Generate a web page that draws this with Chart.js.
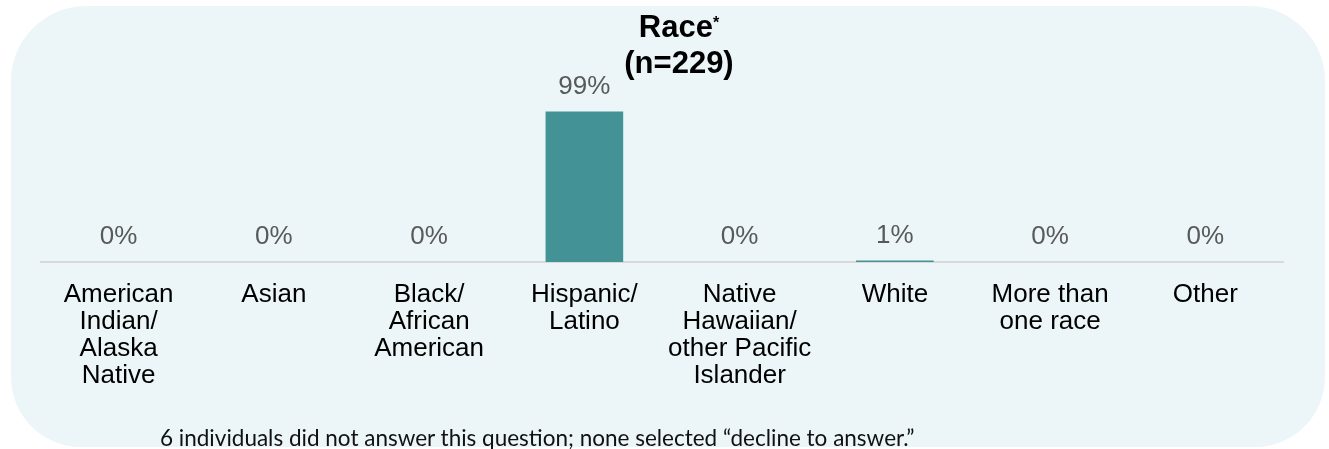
<!DOCTYPE html>
<html>
<head>
<meta charset="utf-8">
<script src="https://cdn.jsdelivr.net/npm/chart.js@4.4.1/dist/chart.umd.min.js"></script>
<style>
    body { margin: 0; background: #ffffff; width: 1329px; height: 449px; overflow: hidden; position: relative; font-family: "Liberation Sans", Arial, sans-serif; }
    #panel { position: absolute; left: 11px; top: 6px; width: 1314px; height: 441px; border-radius: 75px 75px 70px 70px; background: #ecf6f8; }
    #chartBox { position: absolute; left: 0; top: 0; width: 1329px; height: 449px; }
    #title { position: absolute; left: 579px; width: 200px; top: 9px; text-align: center; font-weight: bold; font-size: 31px; line-height: 36px; color: #000; }
    #title sup { font-size: 16px; position: relative; top: -4px; vertical-align: top; }
    #note { position: absolute; left: 160px; top: 424px; font-family: Lato, "Open Sans", sans-serif; font-size: 22.5px; color: #111; white-space: nowrap; }
</style>
</head>
<body>
<div id="panel"></div>
<div id="chartBox"><canvas id="raceChart"></canvas></div>
<div id="title">Race<sup>*</sup><br>(n=229)</div>
<div id="note">6 individuals did not answer this question; none selected “decline to answer.”</div>
<script>
var categories = [
    ["American", "Indian/", "Alaska", "Native"],
    ["Asian"],
    ["Black/", "African", "American"],
    ["Hispanic/", "Latino"],
    ["Native", "Hawaiian/", "other Pacific", "Islander"],
    ["White"],
    ["More than", "one race"],
    ["Other"]
];
var percentValues = [0, 0, 0, 99, 0, 1, 0, 0];

// draws the "x%" text above each bar
var valueLabels = {
    id: "valueLabels",
    afterDatasetsDraw: function(chart) {
        var ctx = chart.ctx;
        var meta = chart.getDatasetMeta(0);
        ctx.save();
        ctx.font = "26px 'Liberation Sans', Arial, sans-serif";
        ctx.fillStyle = "#595959";
        ctx.textAlign = "center";
        ctx.textBaseline = "middle";
        meta.data.forEach(function(bar, i) {
            ctx.fillText(percentValues[i] + "%", bar.x, bar.y - 25);
        });
        ctx.restore();
    }
};

document.addEventListener("DOMContentLoaded", function() {
    var ctx = document.getElementById("raceChart").getContext("2d");
    new Chart(ctx, {
        type: "bar",
        data: {
            labels: categories,
            datasets: [{
                data: percentValues,
                backgroundColor: "#439396",
                barPercentage: 0.5,
                categoryPercentage: 1.0
            }]
        },
        options: {
            responsive: true,
            maintainAspectRatio: false,
            animation: false,
            layout: { padding: { top: 110, right: 46, bottom: 0, left: 41 } },
            plugins: {
                legend: { display: false },
                tooltip: { enabled: false }
            },
            scales: {
                y: { display: false, min: 0, max: 100 },
                x: {
                    grid: { display: false },
                    border: { display: true, color: "#d9d9d9", width: 2 },
                    afterFit: function(scale) { scale.height = 187; }, // keeps the axis line at y=262
                    ticks: {
                        color: "#000000",
                        font: { family: "'Liberation Sans', Arial, sans-serif", size: 26, lineHeight: "27px" },
                        padding: 11,
                        minRotation: 0,
                        maxRotation: 0,
                        autoSkip: false
                    }
                }
            }
        },
        plugins: [valueLabels]
    });
});
</script>
</body>
</html>
